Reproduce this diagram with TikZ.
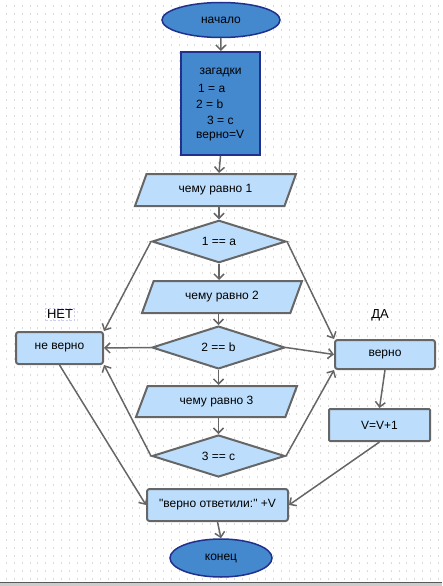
\documentclass[tikz,border=0pt]{standalone}
\usepackage{fontspec}
\setmainfont{Liberation Sans}[Ligatures=TeXOff]
\usetikzlibrary{shapes.geometric,arrows.meta}
\definecolor{termfill}{RGB}{68,136,206}
\definecolor{termdraw}{RGB}{32,48,140}
\definecolor{boxfill}{RGB}{188,222,252}
\definecolor{edgec}{RGB}{102,102,102}
\definecolor{dotc}{RGB}{218,218,218}
\definecolor{lav}{RGB}{205,205,240}
\tikzset{
  term/.style={ellipse, draw=termdraw, fill=termfill, line width=1.5pt, inner sep=0pt},
  zagbox/.style={rectangle, draw=termdraw, fill=termfill, line width=2pt, inner sep=0pt},
  procbox/.style={rectangle, rounded corners=2.5pt, draw=edgec, fill=boxfill, line width=2pt, inner sep=0pt},
  iobox/.style={trapezium, trapezium left angle=43, trapezium right angle=137, trapezium stretches body, draw=edgec, fill=boxfill, line width=2pt, inner sep=0pt},
  decision/.style={diamond, draw=edgec, fill=boxfill, line width=2pt, inner sep=0pt},
  conn/.style={draw=edgec, line width=1.5pt, -{Straight Barb[length=5pt,width=10pt]}},
  txt/.style={inner sep=0pt, anchor=west},
  lbl/.style={font=\fontsize{13}{15}\selectfont, inner sep=1.5pt}
}
\begin{document}
\begin{tikzpicture}[x=1pt,y=-1pt,font=\fontsize{12}{14}\selectfont]
\useasboundingbox (0,0) rectangle (442,586);
% dot grid
\foreach \i in {0,...,55} {\foreach \j in {0,...,73} {\fill[dotc] ({6+7.85*\i},{5+7.85*\j}) rectangle ++(1,2);}}
% bottom bar
\fill[gray!40] (0,582) rectangle (442,586);
\draw[gray!70!black, line width=1pt] (0,582.5) -- (442,582.5);

% nodes
\node[term, minimum width=118pt, minimum height=35pt] (start) at (221,20) {начало};
\node[zagbox, minimum width=79pt, minimum height=103pt] (zag) at (220.5,103.5) {};
\node[inner sep=0pt] (z1) at (220.5,72) {загадки};
\node[txt] (z2) at (198,88) {1 = a};
\node[txt] (z3) at (196,104) {2 = b};
\node[txt] (z4) at (207,120) {3 = c};
\node[txt] (z5) at (196,136) {верно=V};

\node[iobox, minimum width=161pt, minimum height=32pt] (io1) at (215.5,190) {чему равно 1};
\node[decision, minimum width=134pt, minimum height=41pt] (d1) at (219,241.5) {1 == a};
\node[iobox, minimum width=160pt, minimum height=32pt] (io2) at (222,297) {чему равно 2};
\node[decision, minimum width=133pt, minimum height=41pt] (d2) at (218.5,347.5) {2 == b};
\node[iobox, minimum width=161pt, minimum height=31pt] (io3) at (216.5,401.5) {чему равно 3};
\node[decision, minimum width=133pt, minimum height=42pt] (d3) at (218.5,456) {3 == c};

\node[procbox, minimum width=87pt, minimum height=32pt] (nv) at (59.5,348) {не верно};
\node[procbox, minimum width=100pt, minimum height=29pt] (v) at (385,354.5) {верно};
\node[procbox, rounded corners=1pt, minimum width=101pt, minimum height=32pt] (inc) at (379.5,425) {V=V+1};
\node[procbox, minimum width=141pt, minimum height=32pt] (res) at (217.5,505) {"верно ответили:" +V};
\node[term, minimum width=102pt, minimum height=38pt] (end) at (221,558) {конец};

\node[lbl, draw=lav, dash pattern=on 2pt off 2pt, line width=0.6pt] (no) at (60,314.5) {НЕТ};
\node[lbl] (yes) at (380,315) {ДА};

% connectors
\draw[conn] (start) -- (zag);
\draw[conn] (zag.south) -- (io1.north -| d1.north);
\draw[conn] (io1.south -| d1.north) -- (d1.north);
\draw[conn] (d1.south) -- (io2.north -| d1.south);
\draw[conn] (io2.south -| d2.north) -- (d2.north);
\draw[conn] (d2.south) -- (io3.north -| d2.south);
\draw[conn] (io3.south -| d3.north) -- (d3.north);

\draw[conn] (d1.west) -- (nv.north east);
\draw[conn] (d1.east) -- (v.north west);
\draw[conn] (d2.west) -- (nv.east);
\draw[conn] (d2.east) -- (v.west);
\draw[conn] (d3.west) -- (nv.south east);
\draw[conn] (d3.east) -- (v.south west);

\draw[conn] (v.south) -- (inc.north);
\draw[conn] (inc.south) -- (res.east);
\draw[conn] (nv.south) -- (res.west);
\draw[conn] (res.south) -- (end.north);
\end{tikzpicture}
\end{document}
